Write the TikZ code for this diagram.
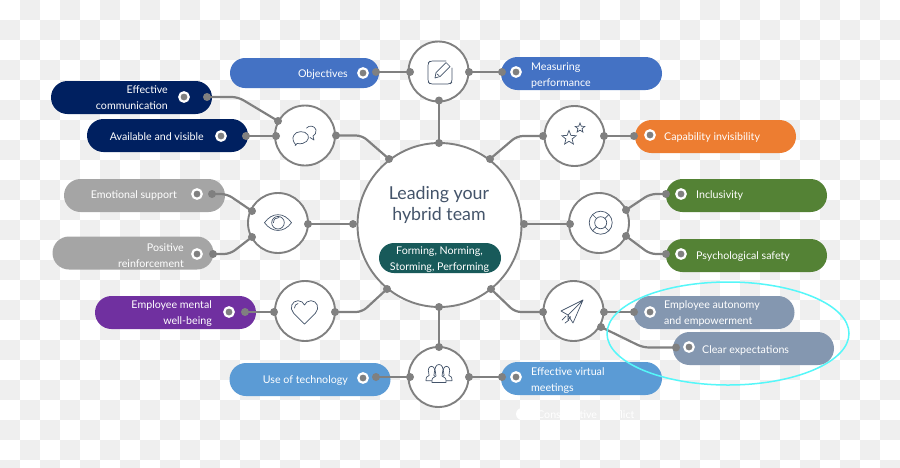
\documentclass[tikz,border=0pt]{standalone}
\usepackage{fontspec}
\setmainfont{Lato}
\usetikzlibrary{shapes.geometric,shapes.misc}
\definecolor{wiregrey}{HTML}{808080}
\definecolor{slate}{HTML}{44546A}
\definecolor{chk}{HTML}{EFEFEF}
\definecolor{cobj}{HTML}{4472C4}
\definecolor{cnavy}{HTML}{002060}
\definecolor{cgrey}{HTML}{A5A5A5}
\definecolor{cpurple}{HTML}{7030A0}
\definecolor{csky}{HTML}{5B9BD5}
\definecolor{corange}{HTML}{ED7D31}
\definecolor{cgreen}{HTML}{548235}
\definecolor{csteel}{HTML}{8497B0}
\definecolor{cteal}{HTML}{185A5A}
\definecolor{ccyan}{HTML}{55F7F9}
\tikzset{
  x=1pt,y=-1pt,
  pill/.style={rounded rectangle,inner sep=0,minimum width=161,minimum height=33,draw=none},
  ring/.style={circle,draw=wiregrey,fill=white,line width=1.9,inner sep=0,minimum size=60},
  jdot/.style={circle,fill=wiregrey,inner sep=0,minimum size=8},
  bullet/.style={circle,fill=wiregrey,draw=white,line width=2.2,inner sep=0,minimum size=9.5},
  wire/.style={draw=wiregrey,line width=2.2,rounded corners=6},
  label/.style={text=white,inner sep=0,align=#1,font=\fontsize{10.65}{16.2}\selectfont},
  label/.default=left,
  icon/.style={draw=slate,line width=0.7,line join=round,line cap=round},
  person/.pic={
    \draw[icon,fill=white] (-7,9) -- (7,9) .. controls (7.5,5) and (6,3.5) .. (3,2.5)
      .. controls (2.5,1) .. (3.5,-1) .. controls (5,-5) and (3,-9) .. (0,-9)
      .. controls (-3,-9) and (-5,-5) .. (-3.5,-1) .. controls (-2.5,1) .. (-3,2.5)
      .. controls (-6,3.5) and (-7.5,5) .. (-7,9) -- cycle;
  }
}
\begin{document}
\begin{tikzpicture}
\useasboundingbox (0,0) rectangle (900,467);
% chequered backdrop
\begin{scope}
  \clip (0,0) rectangle (900,467);
  \fill[white] (0,0) rectangle (900,467);
  \foreach \c in {0,...,44}{
    \foreach \r in {0,...,23}{
      \pgfmathtruncatemacro\s{\c+\r}
      \ifodd\s
        \fill[chk] (20*\c,20*\r) rectangle (20*\c+20,20*\r+20);
      \fi
    }
  }
\end{scope}

% faint white item below the lower right pill
\node[circle,fill=white,inner sep=0,minimum size=12] (ghostdot) at (522,414) {};
\node[label,anchor=west] (ghosttext) at (537,415) {Constructive conflict};

% coloured pills
\node[pill,fill=cobj,minimum width=149,minimum height=30] (objectives) at (304.5,73) {};
\node[pill,fill=cnavy] (effcomm) at (131.5,97.5) {};
\node[pill,fill=cnavy] (avail) at (167.5,135.5) {};
\node[pill,fill=cgrey] (emosup) at (144.5,195.5) {};
\node[pill,fill=cgrey] (posrein) at (133,253) {};
\node[pill,fill=cpurple] (mental) at (175.5,312.5) {};
\node[pill,fill=csky] (usetech) at (310,379.5) {};
\node[pill,fill=cobj] (measure) at (581.5,73.5) {};
\node[pill,fill=corange] (capab) at (715.5,136.5) {};
\node[pill,fill=cgreen] (inclus) at (746.5,195.5) {};
\node[pill,fill=cgreen] (psych) at (746.5,255.5) {};
\node[pill,fill=csteel] (autonomy) at (714,312.5) {};
\node[pill,fill=csteel] (clear) at (753.5,348.5) {};
\node[pill,fill=csky] (virtual) at (581.5,378.5) {};

% hub and spokes
\node[ring,minimum size=164] (hub) at (439.5,225) {};
\node[ring] (rtop) at (438.5,71.5) {};
\node[ring] (rchat) at (305,135.5) {};
\node[ring] (reye) at (278,223) {};
\node[ring] (rheart) at (305,311) {};
\node[ring] (rbottom) at (438.5,377) {};
\node[ring] (rstars) at (574.5,136) {};
\node[ring] (rbuoy) at (599,223) {};
\node[ring] (rplane) at (573.5,311) {};

% central texts
\node[text=slate,inner sep=0,align=center,font=\fontsize{17.8}{21.5}\selectfont] (title) at (439,205) {Leading your\\hybrid team};
\node[pill,fill=cteal,minimum width=122,minimum height=30] (phases) at (440,258) {};
\node[label=center] (phasetext) at (439.5,259.5) {Forming, Norming,\\Storming, Performing};

% pill texts
\node[label=right,anchor=east] (tobjectives) at (348,74.3) {Objectives};
\node[label=right,anchor=east] (teffcomm) at (168,98) {Effective\\communication};
\node[label=right,anchor=east] (tavail) at (204,137) {Available and visible};
\node[label=right,anchor=east] (temosup) at (177,195) {Emotional support};
\node[label=right,anchor=east] (tposrein) at (184,255.5) {Positive\\reinforcement};
\node[label=right,anchor=east] (tmental) at (212,313.8) {Employee mental\\well-being};
\node[label=right,anchor=east] (tusetech) at (348,380.8) {Use of technology};
\node[label,anchor=west] (tmeasure) at (531,75.3) {Measuring\\performance};
\node[label,anchor=west] (tcapab) at (664,137) {Capability invisibility};
\node[label,anchor=west] (tinclus) at (696,195) {Inclusivity};
\node[label,anchor=west] (tpsych) at (696,256.8) {Psychological safety};
\node[label,anchor=west] (tautonomy) at (664,313.8) {Employee autonomy\\and empowerment};
\node[label,anchor=west] (tclear) at (702,350) {Clear expectations};
\node[label,anchor=west] (tvirtual) at (531,380.3) {Effective virtual\\meetings};

% small bullets inside the pills
\foreach \n/\x/\y in {bobj/363/73,beff/184/97,bavail/221/136,bemo/197/194,bpos/197/254,
  bmental/229/312,btech/363/378,bmeas/516/72,bcap/650/135,binc/681/194,bpsy/681/254,
  baut/650/312,bclear/689/347,bvirt/516/377}
  \node[bullet] (\n) at (\x,\y) {};

% connector end points
\foreach \n/\x/\y in {
  a1/376/72,a2/410/72, b1/207/97,b2/278/121, c1/246/136,c2/276/136,
  d1/336/135.5,d2/389/159, e1/212/194,e2/252/211, f1/213/254,f2/252/237,
  g1/308/224,g2/353/224, h1/245/312,h2/274/312, i1/335/312,i2/387/289,
  j1/376/377,j2/410/377, k1/439/100.5,k2/439/143, l1/439/307,l2/439/347,
  m1/469/72,m2/502/72, n1/490/159,n2/543/136, o1/604/136,o2/634/136,
  p1/666/194,p2/626/210, q1/666/254,q2/626/236, r1/524/224,r2/570/224,
  s1/491/289,s2/543/312, t1/604/312,t2/634/312, u1/676/347.5,u2/601/327,
  v1/469/377,v2/502/377}
  \node[jdot] (\n) at (\x,\y) {};

% connectors
\foreach \u/\v in {a1/a2,c1/c2,g1/g2,h1/h2,j1/j2,k1/k2,l1/l2,m1/m2,o1/o2,r1/r2,t1/t2,v1/v2}
  \draw[wire] (\u.center) -- (\v.center);
\draw[wire] (b1.center) -- (238,97) -- (b2.center);
\draw[wire] (d1.center) -- (362,135.5) -- (d2.center);
\draw[wire] (e1.center) -- (227,194) -- (e2.center);
\draw[wire] (f1.center) -- (230,254) -- (f2.center);
\draw[wire] (i1.center) -- (362,312) -- (i2.center);
\draw[wire] (n1.center) -- (517,136) -- (n2.center);
\draw[wire] (p1.center) -- (650,194) -- (p2.center);
\draw[wire] (q1.center) -- (650,254) -- (q2.center);
\draw[wire] (s1.center) -- (515,312) -- (s2.center);
\draw[wire] (u1.center) -- (643,347.5) -- (u2.center);

% pencil and pad
\draw[icon,rounded corners=2.5] (446,61) -- (430,61) -- (428,63) -- (428,82) -- (430,84) -- (450,84) -- (452,82) -- (452,68);
\draw[icon] (436,72.5) -- (446,62.5) -- (450,66.5) -- (440,76.5) -- (435,78) -- cycle (437,74) -- (439,75.5);
% speech bubbles
\draw[icon] (306.5,128) .. controls (309,125) and (315,125.5) .. (316,130) .. controls (316.5,133) and (315,135) .. (313,136) -- (314,140) -- (310,137.5);
\draw[icon,fill=white] (296,145) .. controls (293,142) and (292,138) .. (294,135) .. controls (296,131) and (305,130) .. (308,135) .. controls (310,139) and (306,145) .. (297,143.5) -- (295,145.5);
% eye
\draw[icon] (264.5,222.7) .. controls (272,212) and (284,212) .. (291.5,222.7) .. controls (284,233) and (272,233) .. (264.5,222.7) -- cycle;
\draw[icon] (278,222.7) circle[radius=6.3];
\draw[icon] (273.5,222.7) .. controls (273.5,219) and (276,217.5) .. (279,217.5);
% heart
\draw[icon] (304.5,324) -- (293.5,313) .. controls (289,308) and (292,300.7) .. (298,300.7) .. controls (301,300.7) and (303.5,302.5) .. (304.5,305)
  .. controls (305.5,302.5) and (308,300.7) .. (311,300.7) .. controls (317,300.7) and (320,308) .. (315.5,313) -- cycle;
\draw[icon] (294.5,308) .. controls (294.5,305.5) and (296,304) .. (298,303.5);
% three people
\pic at (431.5,373.5) [scale=0.8] {person};
\pic at (446.5,373.5) [scale=0.8] {person};
\pic at (439,373.5) {person};
% stars
\node[star,star points=5,star point ratio=2.3,draw=slate,line width=0.7,inner sep=0,minimum size=15] (bigstar) at (569,138) {};
\node[star,star points=5,star point ratio=2.3,draw=slate,line width=0.7,inner sep=0,minimum size=10] (smallstar) at (580,128) {};
% life buoy
\draw[icon] (600.7,222.7) circle[radius=11.5] (600.7,222.7) circle[radius=6];
\draw[icon] (596.5,218.5) -- (592.6,214.6) (604.9,218.5) -- (608.8,214.6) (596.5,226.9) -- (592.6,230.8) (604.9,226.9) -- (608.8,230.8);
% paper plane
\draw[icon] (583,300) -- (561,311) -- (568,315) -- (573,323) -- cycle (583,300) -- (568,315) -- (568,320) -- (570.7,316.7);
\draw[icon] (566,316) -- (562,320) (569,320) -- (565,323);

% highlight around the last two pills
\node[ellipse,draw=ccyan,line width=1.5,inner sep=0,minimum width=242,minimum height=103] (highlight) at (728,333.5) {};
\end{tikzpicture}
\end{document}
